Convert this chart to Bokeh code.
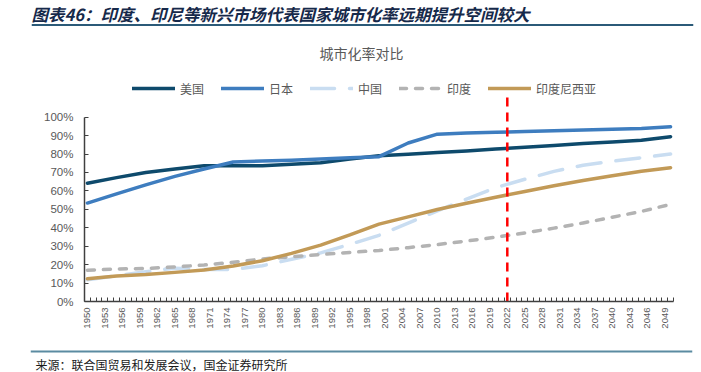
import math
from bokeh.plotting import figure
from bokeh.layouts import column
from bokeh.models import Range1d, FixedTicker, PrintfTickFormatter, Label, Span
from bokeh.embed import file_html
from bokeh.resources import INLINE

# ---------------- data ----------------
years = [1950, 1955, 1960, 1965, 1970, 1975, 1980, 1985, 1990, 1995, 2000,
         2005, 2010, 2015, 2020, 2025, 2030, 2035, 2040, 2045, 2050]
usa = [64.2, 67.2, 70.0, 71.9, 73.6, 73.7, 73.7, 74.5, 75.3, 77.3, 79.1,
       79.9, 80.8, 81.7, 82.7, 83.7, 84.7, 85.7, 86.6, 87.5, 89.4]
japan = [53.4, 58.4, 63.3, 67.9, 71.9, 75.7, 76.2, 76.7, 77.3, 78.0, 78.6,
         86.0, 90.8, 91.4, 91.8, 92.2, 92.7, 93.1, 93.5, 93.9, 94.8]
china = [11.8, 13.9, 16.2, 18.1, 17.4, 17.4, 19.4, 22.9, 26.4, 31.0, 35.9,
         42.5, 49.2, 55.5, 61.8, 66.3, 70.6, 73.9, 76.1, 78.0, 80.0]
india = [17.0, 17.6, 17.9, 18.8, 19.8, 21.3, 23.1, 24.3, 25.5, 26.6, 27.7,
         29.2, 30.9, 32.8, 34.9, 37.2, 39.8, 42.6, 45.7, 48.9, 52.7]
indonesia = [12.4, 13.8, 14.6, 15.8, 17.1, 19.3, 22.1, 26.1, 30.6, 36.1, 42.0,
             45.9, 49.9, 53.3, 56.6, 59.7, 62.8, 65.6, 68.2, 70.7, 72.6]
series_names = ["美国", "日本", "中国", "印度", "印度尼西亚"]
label_years = list(range(1950, 2050, 3))
y_ticks = list(range(0, 101, 10))
divider_year = 2022

header_text = "图表46：印度、印尼等新兴市场代表国家城市化率远期提升空间较大"
chart_title = "城市化率对比"
source_text = "来源：联合国贸易和发展会议，国金证券研究所"

CJK = "Noto Sans CJK SC"
LAT = "Liberation Sans"
GREY_TXT = "#595959"
AXIS = "#404040"
W = 701

# ---------------- header ----------------
hdr = figure(width=W, height=30, x_range=Range1d(0, 1), y_range=Range1d(0, 1),
             x_axis_type=None, y_axis_type=None, output_backend="svg",
             toolbar_location=None, min_border_left=31, min_border_right=8,
             min_border_top=0, min_border_bottom=0, frame_align=False)
hdr.outline_line_color = None
hdr.add_layout(Label(x=0, y=17, x_units="screen", y_units="screen", text=header_text,
                     text_font=CJK, text_font_size="16.5px", text_font_style="bold italic",
                     text_color="#16294A", text_baseline="middle"))
hdr.add_layout(Span(location=5.5, location_units="screen", dimension="width",
                    line_color="#2B5A78", line_width=2))

# ---------------- main chart ----------------
p = figure(width=W, height=312, x_range=Range1d(1949.5, 2050.5),
           y_range=Range1d(0, 127.5), output_backend="svg", toolbar_location=None,
           min_border_left=84, min_border_right=28, min_border_top=36,
           min_border_bottom=41, frame_align=False)
p.outline_line_color = None
p.xgrid.visible = False
p.ygrid.visible = False

p.title.text = chart_title
p.title.align = "left"
p.title.offset = 235
p.title.standoff = 7
p.title.text_font = CJK
p.title.text_font_size = "14px"
p.title.text_font_style = "normal"
p.title.text_color = GREY_TXT

styles = [
    (usa, "#0E4A6C", None),
    (japan, "#3E7DBF", None),
    (china, "#C9DDF1", "24 15"),
    (india, "#B3B3B3", "7 9"),
    (indonesia, "#C29A57", None),
]
for (vals, color, dash), name in zip(styles, series_names):
    kw = dict(line_color=color, line_width=3.5, line_cap="round", line_join="round",
              legend_label=name)
    if dash:
        kw["line_dash"] = dash
    p.line(years, vals, **kw)

p.segment(x0=[divider_year], y0=[0], x1=[divider_year], y1=[111.2],
          line_color="#FF0000", line_width=2.5, line_dash="9 6")

xa = p.xaxis[0]
xa.ticker = FixedTicker(ticks=label_years,
                        minor_ticks=[1949.5 + i for i in range(102)])
xa.major_tick_in = 0
xa.major_tick_out = 0
xa.minor_tick_in = 4
xa.minor_tick_out = 0
xa.minor_tick_line_color = AXIS
xa.axis_line_color = AXIS
xa.axis_line_width = 1.5
xa.major_label_orientation = math.pi / 2
xa.major_label_standoff = 6
xa.major_label_text_font = LAT
xa.major_label_text_font_size = "9.5px"
xa.major_label_text_color = GREY_TXT

ya = p.yaxis[0]
ya.ticker = FixedTicker(ticks=y_ticks)
ya.formatter = PrintfTickFormatter(format="%d%%")
ya.bounds = (0, 100)
ya.major_tick_in = 4
ya.major_tick_out = 0
ya.major_tick_line_color = AXIS
ya.minor_tick_line_color = None
ya.axis_line_color = AXIS
ya.axis_line_width = 1.5
ya.major_label_standoff = 11
ya.major_label_text_font = LAT
ya.major_label_text_font_size = "11.5px"
ya.major_label_text_color = GREY_TXT

lg = p.legend[0]
lg.location = (48, 203)
lg.orientation = "horizontal"
lg.glyph_width = 43
lg.glyph_height = 20
lg.label_standoff = 5
lg.spacing = 17
lg.padding = 0
lg.margin = 0
lg.border_line_color = None
lg.background_fill_alpha = 0
lg.label_text_font = CJK
lg.label_text_font_size = "12px"
lg.label_text_color = GREY_TXT

# ---------------- footer ----------------
ftr = figure(width=W, height=30, x_range=Range1d(0, 1), y_range=Range1d(0, 1),
             x_axis_type=None, y_axis_type=None, output_backend="svg",
             toolbar_location=None, min_border_left=30, min_border_right=9,
             min_border_top=0, min_border_bottom=0, frame_align=False)
ftr.outline_line_color = None
ftr.add_layout(Span(location=21, location_units="screen", dimension="width",
                    line_color="#5B8BA1", line_width=2))
ftr.add_layout(Label(x=5, y=8, x_units="screen", y_units="screen", text=source_text,
                     text_font=CJK, text_font_size="12px", text_color="#1A1A1A",
                     text_baseline="middle"))

layout = column(hdr, p, ftr, spacing=0)
open("out.html", "w").write(file_html(layout, INLINE))
